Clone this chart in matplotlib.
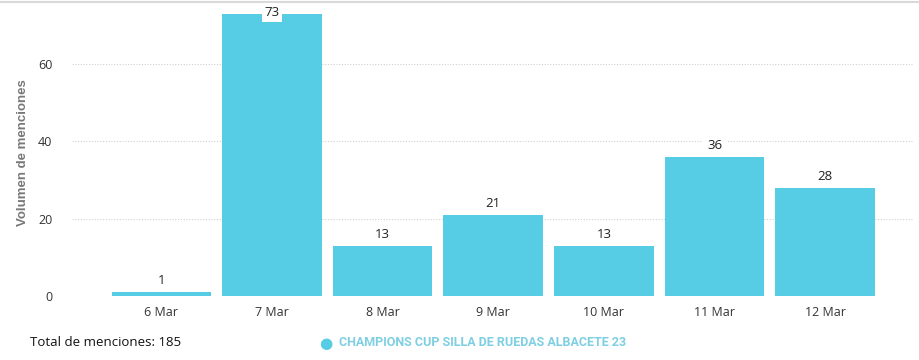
import matplotlib.pyplot as plt
from matplotlib.lines import Line2D

days = ["6 Mar", "7 Mar", "8 Mar", "9 Mar", "10 Mar", "11 Mar", "12 Mar"]
mentions = [1, 73, 13, 21, 13, 36, 28]
series_name = "CHAMPIONS CUP SILLA DE RUEDAS ALBACETE 23"
yticks = [0, 20, 40, 60]

bar_color = "#56CDE4"
plt.rcParams["font.family"] = ["Open Sans", "DejaVu Sans"]

fig = plt.figure(figsize=(9.19, 3.6), dpi=100)
ax = fig.add_axes([0.078, 0.178, 0.915, 0.816])

x = list(range(len(days)))
ax.bar(x, mentions, width=0.9, color=bar_color, zorder=2)

for xi, v in zip(x, mentions):
    if v > 70:
        ax.text(xi, v + 0.3, str(v), ha="center", va="center", fontsize=9.5,
                color="#222222", zorder=3,
                bbox=dict(boxstyle="square,pad=0.2", fc="white", ec="none"))
    else:
        ax.text(xi, v + 3.0, str(v), ha="center", va="center", fontsize=9.5,
                color="#222222", zorder=3,
                bbox=dict(boxstyle="square,pad=0.3", fc="white", ec="none"))

ax.set_xlim(-0.81, 6.79)
ax.set_ylim(0, 76)
ax.set_xticks(x)
ax.set_xticklabels(days)
ax.set_yticks(yticks)
ax.tick_params(axis="both", length=0, labelsize=9, colors="#333333")
ax.tick_params(axis="x", pad=7)
ax.tick_params(axis="y", pad=14)
ax.yaxis.grid(True, linestyle=(0, (1, 1.5)), color="#d0d0d0", linewidth=0.8, zorder=0)
for s in ["left", "right", "bottom", "top"]:
    ax.spines[s].set_visible(False)

fig.add_artist(Line2D([0, 1], [1 - 1.5 / 360, 1 - 1.5 / 360], color="#d9d9d9",
                      linewidth=1.5, transform=fig.transFigure))

fig.text(23 / 919, 1 - 153 / 360, "Volumen de menciones", rotation=90,
         fontsize=9.5, color="#777777", family="Liberation Sans",
         fontweight="bold", ha="center", va="center")

fig.text(30 / 919, 1 - 343 / 360, "Total de menciones: " + str(sum(mentions)),
         fontsize=9.5, color="#111111", va="center", ha="left")
fig.text(326 / 919, 1 - 343 / 360, "\u25CF", fontsize=11, color=bar_color,
         family="DejaVu Sans", va="center", ha="center")
fig.text(339 / 919, 1 - 343 / 360, series_name, fontsize=9, color="#7ECFE2",
         fontweight="bold", family="Roboto", va="center", ha="left")

fig.savefig("out.png", dpi=100)
